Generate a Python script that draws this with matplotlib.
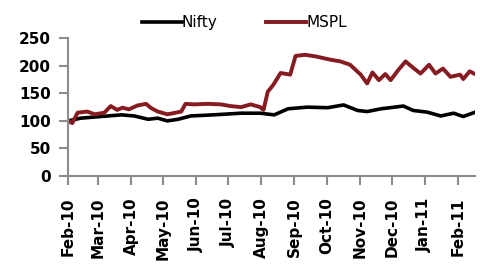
import pandas as pd
import matplotlib
matplotlib.use('Agg')
import matplotlib.pyplot as plt
import matplotlib.dates as mdates

# Nifty vs MSPL, rebased to 100
nifty_dates = ['2010-02-01', '2010-02-13', '2010-03-04', '2010-03-23', '2010-04-04',
               '2010-04-17', '2010-04-26', '2010-05-05', '2010-05-15', '2010-05-27',
               '2010-06-17', '2010-07-13', '2010-07-31', '2010-08-13', '2010-08-26',
               '2010-09-13', '2010-10-02', '2010-10-17', '2010-10-30', '2010-11-08',
               '2010-11-21', '2010-12-12', '2010-12-21', '2011-01-03', '2011-01-16',
               '2011-01-28', '2011-02-06', '2011-02-16']
nifty_vals = [100, 105, 108, 111, 109, 103, 105, 100, 103, 109,
              111, 114, 114, 111, 122, 125, 124, 129, 119, 117,
              122, 127, 119, 116, 109, 114, 108, 115]

mspl_dates = ['2010-02-01', '2010-02-05', '2010-02-10', '2010-02-19', '2010-02-26',
              '2010-03-07', '2010-03-13', '2010-03-19', '2010-03-24', '2010-03-30',
              '2010-04-07', '2010-04-15', '2010-04-20', '2010-04-26', '2010-05-05',
              '2010-05-13', '2010-05-18', '2010-05-22', '2010-05-30', '2010-06-12',
              '2010-06-24', '2010-07-03', '2010-07-13', '2010-07-22', '2010-07-31',
              '2010-08-03', '2010-08-07', '2010-08-12', '2010-08-19', '2010-08-28',
              '2010-09-02', '2010-09-11', '2010-09-21', '2010-10-05', '2010-10-14',
              '2010-10-23', '2010-11-02', '2010-11-08', '2010-11-13', '2010-11-19',
              '2010-11-25', '2010-11-30', '2010-12-07', '2010-12-14', '2010-12-22',
              '2010-12-28', '2011-01-05', '2011-01-11', '2011-01-18', '2011-01-25',
              '2011-02-03', '2011-02-06', '2011-02-12', '2011-02-16']
mspl_vals = [100, 96, 115, 117, 112, 115, 127, 120, 124, 121,
             128, 131, 123, 117, 112, 115, 117, 131, 130, 131,
             130, 127, 125, 130, 125, 120, 153, 165, 187, 184,
             218, 220, 217, 211, 208, 202, 184, 168, 188, 174,
             185, 174, 192, 208, 195, 186, 202, 186, 195, 180,
             184, 176, 190, 186]

fig = plt.figure(figsize=(4.8, 2.69), dpi=100)
ax = fig.add_axes([0.1417, 0.3457, 0.8479, 0.512])

ax.plot(pd.to_datetime(nifty_dates), nifty_vals, color='black', lw=2.6, label='Nifty')
ax.plot(pd.to_datetime(mspl_dates), mspl_vals, color='#861B22', lw=2.8, label='MSPL')

ax.set_ylim(0, 250)
ax.set_yticks(range(0, 251, 50))
ax.set_xlim(pd.Timestamp('2010-02-01'), pd.Timestamp('2011-02-17'))
ax.xaxis.set_major_locator(mdates.MonthLocator())
ax.xaxis.set_major_formatter(mdates.DateFormatter('%b-%y'))

for s in ['top', 'right']:
    ax.spines[s].set_visible(False)
for s in ['left', 'bottom']:
    ax.spines[s].set_color('#8c8c8c')
    ax.spines[s].set_linewidth(1.5)

ax.tick_params(axis='y', length=6.5, width=1.5, color='#8c8c8c', pad=6, labelsize=11)
ax.tick_params(axis='x', length=6.5, width=1.5, color='#8c8c8c', pad=9, labelsize=11,
               labelrotation=90)
for lab in ax.get_xticklabels() + ax.get_yticklabels():
    lab.set_fontweight('bold')

leg = fig.legend(loc='center', bbox_to_anchor=(0.509, 0.9145), ncol=2, frameon=False,
                 handlelength=2.6, handletextpad=0.0, columnspacing=3.2,
                 prop={'size': 11})

fig.savefig('out.png', dpi=100)
